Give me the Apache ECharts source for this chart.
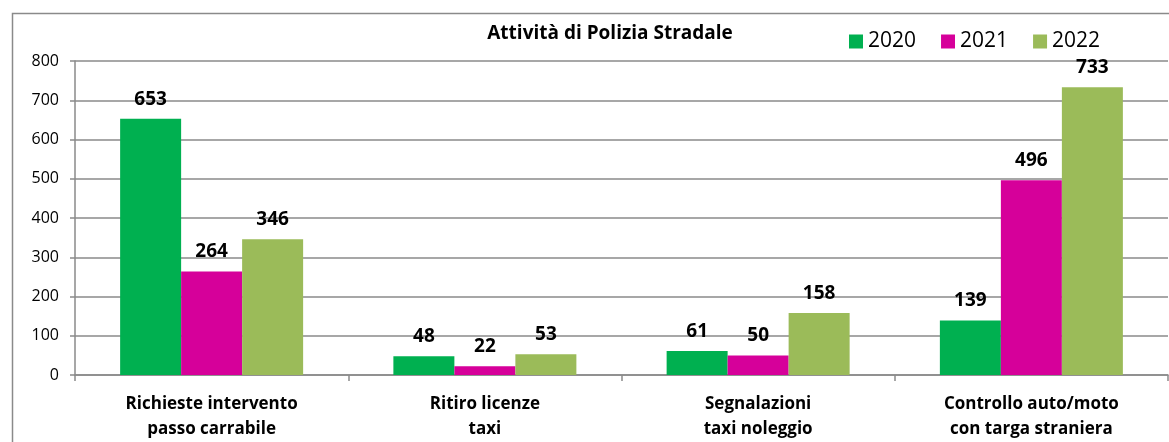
<!DOCTYPE html>
<html>
<head>
<meta charset="utf-8">
<script src="https://cdn.jsdelivr.net/npm/echarts@6/dist/echarts.min.js"></script>
<style>
  html, body { margin: 0; padding: 0; background: #fff; }
  #chart { width: 1169px; height: 442px; }
</style>
</head>
<body>
<div id="chart"></div>
<script>
const categories = [
  'Richieste intervento\npasso carrabile',
  'Ritiro licenze\ntaxi',
  'Segnalazioni\ntaxi noleggio',
  'Controllo auto/moto\ncon targa straniera'
]
const years = ['2020', '2021', '2022']
const values2020 = [653, 48, 61, 139]
const values2021 = [264, 22, 50, 496]
const values2022 = [346, 53, 158, 733]
const colors = ['#00B050', '#D6009A', '#9BBB59']

const chart = echarts.init(document.getElementById('chart'))
const font = '"Open Sans", sans-serif'

const series = [values2020, values2021, values2022].map((vals, i) => ({
  name: years[i],
  type: 'bar',
  data: vals,
  barWidth: 61,
  barGap: '0%',
  itemStyle: { color: colors[i] },
  label: {
    show: true,
    position: 'top',
    distance: 10,
    color: '#000',
    fontWeight: 'bold',
    fontSize: 19,
    fontFamily: font
  }
}))

const option = {
  animation: false,
  textStyle: { fontFamily: font },
  graphic: [{
    type: 'rect',
    shape: { x: 12.5, y: 13.5, width: 1170, height: 440 },
    style: { fill: 'none', stroke: '#8a8a8a', lineWidth: 1.5 },
    silent: true
  }],
  title: {
    text: 'Attività di Polizia Stradale',
    left: 605,
    top: 19,
    textAlign: 'center',
    textStyle: { fontSize: 19, fontWeight: 'bold', color: '#000', fontFamily: font }
  },
  legend: {
    data: years,
    left: 844,
    top: 26,
    icon: 'rect',
    itemWidth: 14,
    itemHeight: 14,
    itemGap: 25,
    textStyle: { fontSize: 21, color: '#000', fontFamily: font }
  },
  grid: { left: 75, right: 1, top: 61, bottom: 62 },
  xAxis: {
    type: 'category',
    data: categories,
    axisLine: { lineStyle: { color: '#8a8a8a', width: 1.5 } },
    axisTick: { show: true, length: 6, lineStyle: { color: '#8a8a8a', width: 1.5 } },
    axisLabel: {
      interval: 0,
      margin: 17,
      color: '#000',
      fontWeight: 'bold',
      fontSize: 17,
      lineHeight: 25,
      fontFamily: font
    }
  },
  yAxis: {
    type: 'value',
    min: 0,
    max: 800,
    interval: 100,
    axisLine: { show: true, lineStyle: { color: '#8a8a8a', width: 1.5 } },
    axisTick: { show: true, length: 5, lineStyle: { color: '#8a8a8a', width: 1.5 } },
    splitLine: { lineStyle: { color: '#8a8a8a', width: 1.5 } },
    axisLabel: { color: '#000', fontSize: 16, margin: 16, fontFamily: font }
  },
  series: series
}
chart.setOption(option)
</script>
</body>
</html>
